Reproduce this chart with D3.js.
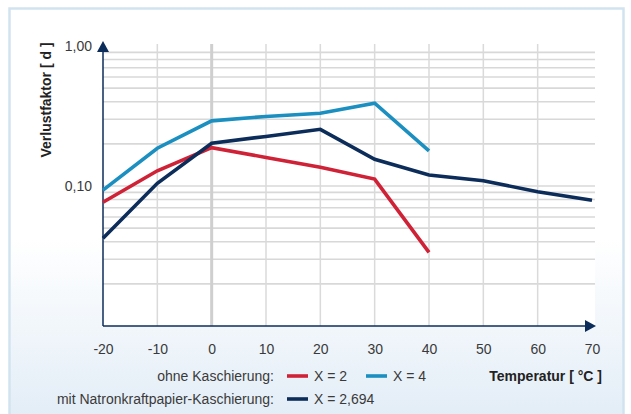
<!DOCTYPE html>
<html><head><meta charset="utf-8">
<script src="https://cdn.jsdelivr.net/npm/d3@7"></script>
<style>
html,body{margin:0;padding:0;background:#fff;}
svg{display:block;}
text{font-family:"Liberation Sans Narrow","Liberation Sans",Arial,sans-serif;}
</style></head>
<body>
<svg id="chart" width="631" height="414"></svg>
<script>
// ---- data ----
const temps = [-20, -10, 0, 10, 20, 30, 40, 50, 60, 70];
const xTickLabels = ["-20", "-10", "0", "10", "20", "30", "40", "50", "60", "70"];
const yTickValues = [1, 0.1];
const yTickLabels = ["1,00", "0,10"];
const seriesNames = ["X = 2", "X = 4", "X = 2,694"];
const valuesX2 = [0.0766, 0.1285, 0.188, 0.160, 0.136, 0.112, 0.0336];
const valuesX4 = [0.0935, 0.186, 0.292, 0.314, 0.331, 0.390, 0.178];
const valuesX2694 = [0.0423, 0.1045, 0.202, 0.226, 0.254, 0.155, 0.120, 0.109, 0.091, 0.079];
const colors = ["#cf2236", "#1a8fc0", "#0c2c5a"];

const svg = d3.select("#chart");
const defs = svg.append("defs");
const grad = defs.append("linearGradient").attr("id","bg").attr("x1",0).attr("y1",0).attr("x2",0).attr("y2",1);
grad.append("stop").attr("offset","0%").attr("stop-color","#ffffff");
grad.append("stop").attr("offset","55%").attr("stop-color","#ffffff");
grad.append("stop").attr("offset","100%").attr("stop-color","#e1ecf6");

svg.append("rect").attr("x",9.5).attr("y",8.5).attr("width",614).attr("height",420)
  .attr("fill","url(#bg)").attr("stroke","#d2e3f0").attr("stroke-width",2.5);

const x = d3.scaleLinear().domain([-20, 70]).range([103, 592]);
const y = d3.scaleLog().domain([0.01, 1]).range([326, 46]);

// plot area white
svg.append("rect").attr("x",103).attr("y",44).attr("width",492).attr("height",282).attr("fill","#fff");

// horizontal grid (log minor lines)
const gridVals = [];
for (let d of [0.01, 0.1]) for (let k = 2; k <= 9; k++) gridVals.push(+(d*k).toFixed(4));
gridVals.push(0.1);
svg.append("g").selectAll("line").data(gridVals).join("line")
  .attr("x1",103).attr("x2",595)
  .attr("y1",d=>y(d)).attr("y2",d=>y(d))
  .attr("stroke","#d8d8d8").attr("stroke-width",1.6);

// vertical grid
svg.append("g").selectAll("line").data(temps.slice(1, -1)).join("line")
  .attr("x1",d=>x(d)).attr("x2",d=>x(d)).attr("y1",44).attr("y2",326)
  .attr("stroke",d=>d===0?"#cfcfcf":"#dadada").attr("stroke-width",d=>d===0?3:1.5);

// axes
const axisColor = "#0c2c5a";
svg.append("line").attr("x1",103).attr("x2",588).attr("y1",326).attr("y2",326).attr("stroke",axisColor).attr("stroke-width",1.5);
svg.append("line").attr("x1",103).attr("x2",103).attr("y1",50).attr("y2",326).attr("stroke",axisColor).attr("stroke-width",1.5);
svg.append("path").attr("d","M97,52 L103,41 L109,52 Z").attr("fill",axisColor);
svg.append("path").attr("d","M585,320 L596,326 L585,332 Z").attr("fill",axisColor);

// tick labels
const xAxis = d3.axisBottom(x).tickValues(temps).tickSize(0).tickPadding(0)
  .tickFormat((d,i)=>xTickLabels[i]);
const gx = svg.append("g").attr("transform","translate(0,344)").call(xAxis);
gx.select(".domain").remove();
gx.selectAll("text").attr("font-size",14).attr("fill","#3a3a3a")
  .style("font-family",'"Liberation Sans Narrow","Liberation Sans",Arial,sans-serif');

const yAxis = d3.axisLeft(y).tickValues(yTickValues).tickSize(0).tickPadding(0)
  .tickFormat((d,i)=>yTickLabels[i]);
const gy = svg.append("g").attr("transform","translate(92,0)").call(yAxis);
gy.select(".domain").remove();
gy.selectAll("text").attr("font-size",14).attr("fill","#3a3a3a")
  .style("font-family",'"Liberation Sans Narrow","Liberation Sans",Arial,sans-serif');

svg.append("text").attr("transform","translate(51,100) rotate(-90)")
  .attr("text-anchor","middle").attr("font-size",14).attr("font-weight","bold").attr("fill","#222")
  .text("Verlustfaktor [ d ]");

// lines
const line = d3.line().x(d=>x(d[0])).y(d=>y(d[1]));
const allSeries = [valuesX2, valuesX4, valuesX2694];
[0, 1, 2].forEach(i=>{
  const pts = allSeries[i].map((v,j)=>[temps[j], v]);
  svg.append("path").attr("d",line(pts)).attr("fill","none")
    .attr("stroke",colors[i]).attr("stroke-width",3.6).attr("stroke-linejoin","miter");
});

// legend
const fontL = 14;
svg.append("text").attr("x",274).attr("y",381).attr("text-anchor","end").attr("font-size",fontL).attr("fill","#3a3a3a").text("ohne Kaschierung:");
svg.append("text").attr("x",274).attr("y",404).attr("text-anchor","end").attr("font-size",fontL).attr("fill","#3a3a3a").text("mit Natronkraftpapier-Kaschierung:");
const legendItems = [
  {i:0, x:287, y:376},
  {i:1, x:366, y:376},
  {i:2, x:287, y:399}
];
legendItems.forEach(it=>{
  svg.append("line").attr("x1",it.x).attr("x2",it.x+21).attr("y1",it.y).attr("y2",it.y)
    .attr("stroke",colors[it.i]).attr("stroke-width",3.6);
  svg.append("text").attr("x",it.x+27).attr("y",it.y+5).attr("font-size",fontL).attr("fill","#3a3a3a").text(seriesNames[it.i]);
});
svg.append("text").attr("x",602).attr("y",381).attr("text-anchor","end").attr("font-size",14).attr("font-weight","bold").attr("fill","#222").text("Temperatur [ °C ]");
</script>
</body></html>
